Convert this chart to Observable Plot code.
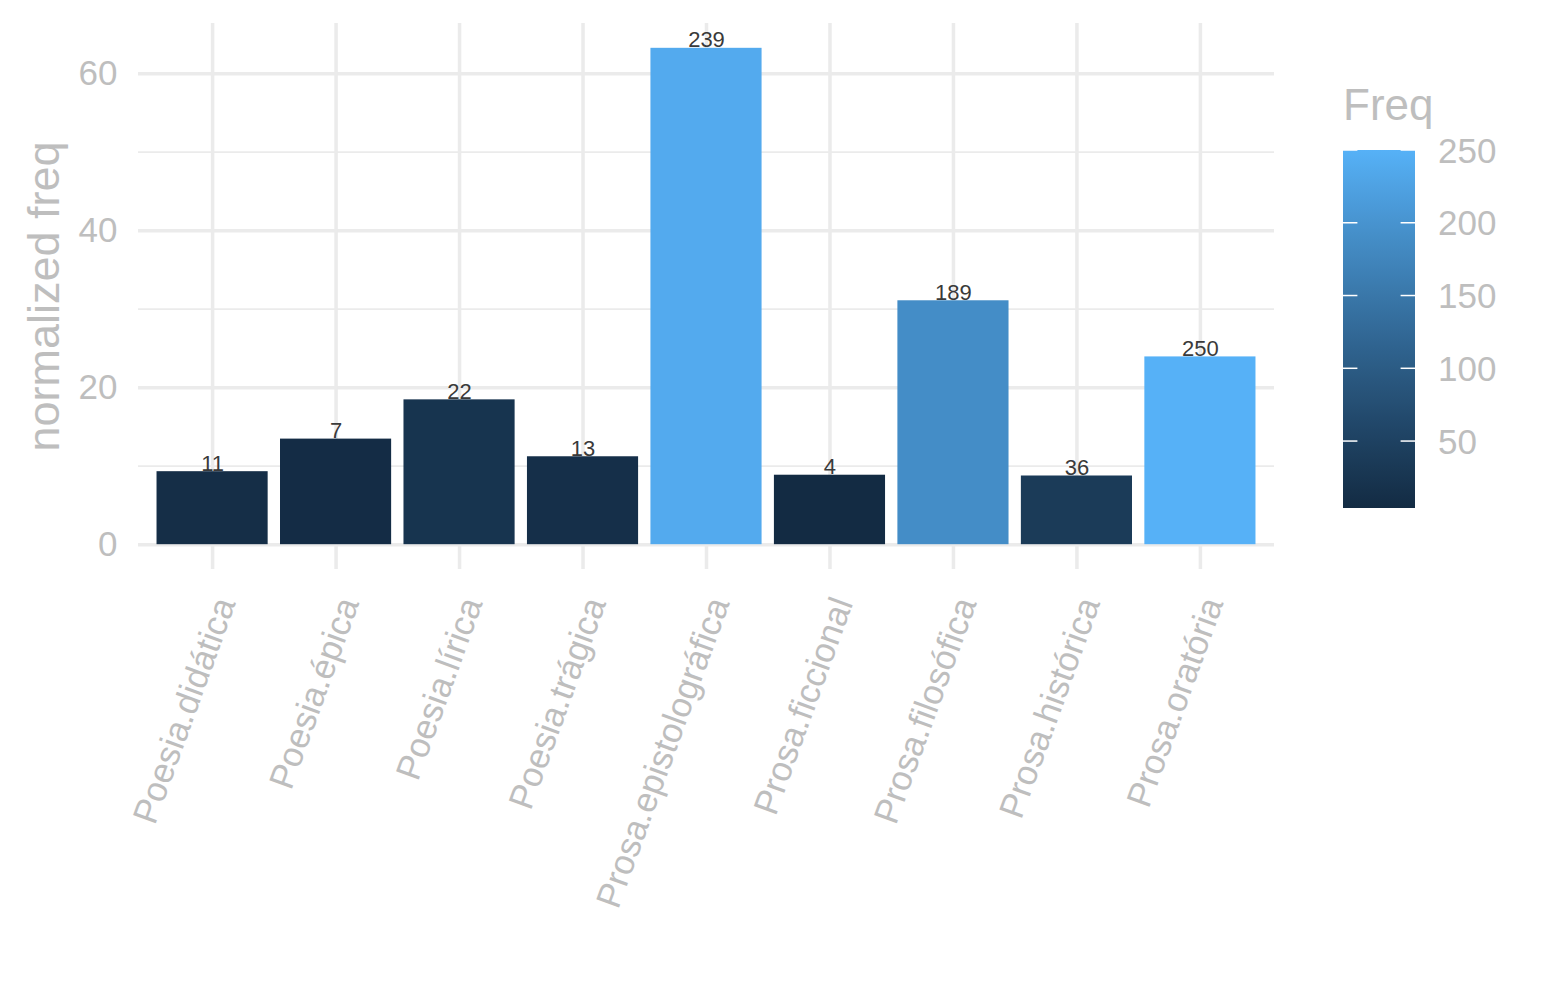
<!DOCTYPE html>
<html>
<head>
<meta charset="utf-8">
<script src="https://cdn.jsdelivr.net/npm/d3@7"></script>
<script src="https://cdn.jsdelivr.net/npm/@observablehq/plot@0.6"></script>
<style>
  html, body { margin: 0; padding: 0; background: #fff; }
  #wrap { position: relative; width: 1545px; height: 1000px; font-family: "Liberation Sans", Arial, sans-serif; }
  #wrap > svg { position: absolute; left: 0; top: 0; }
</style>
</head>
<body>
<div id="wrap"></div>
<script>
const categories = ["Poesia.didática","Poesia.épica","Poesia.lírica","Poesia.trágica","Prosa.epistolográfica","Prosa.ficcional","Prosa.filosófica","Prosa.histórica","Prosa.oratória"];
const normFreq = [9.3, 13.45, 18.45, 11.2, 63.23, 8.85, 31.07, 8.75, 23.92];
const freq = [11, 7, 22, 13, 239, 4, 189, 36, 250];
const yMajorTicks = [0, 20, 40, 60];
const yMinorTicks = [10, 30, 50];
const legendTicks = [50, 100, 150, 200, 250];

const data = categories.map((c, i) => ({cat: c, norm: normFreq[i], freq: freq[i]}));
const fmin = d3.min(freq), fmax = d3.max(freq);
const lowCol = "#132B43", highCol = "#56B1F7";
const grey = "#BEBEBE";
const gridCol = "#EBEBEB";
const font = "Liberation Sans, Arial, sans-serif";

const chart = Plot.plot({
  width: 1545,
  height: 1000,
  marginTop: 23,
  marginBottom: 431,
  marginLeft: 138,
  marginRight: 271,
  style: {fontFamily: font, background: "transparent"},
  x: {type: "band", domain: categories, paddingInner: 0.1, paddingOuter: 0.15, range: [138, 1274], round: false, axis: null},
  y: {domain: [-3.16, 66.39], axis: null},
  color: {type: "linear", domain: [fmin, fmax], range: [lowCol, highCol], interpolate: "lab"},
  marks: [
    Plot.gridY(yMinorTicks, {stroke: gridCol, strokeOpacity: 1, strokeWidth: 1.8}),
    Plot.gridY(yMajorTicks, {stroke: gridCol, strokeOpacity: 1, strokeWidth: 3.5}),
    Plot.gridX(categories, {stroke: gridCol, strokeOpacity: 1, strokeWidth: 3.5}),
    Plot.barY(data, {x: "cat", y: "norm", fill: "freq"}),
    Plot.text(data, {x: "cat", y: "norm", text: d => String(d.freq), fontSize: 22, fill: "#3a3a3a", lineAnchor: "middle", dy: -8}),
    Plot.axisY(yMajorTicks, {tickSize: 0, tickPadding: 21, fontSize: 35, fill: grey, color: grey, label: null}),
    Plot.text(categories, {x: d => d, frameAnchor: "bottom", dy: 25, dx: 0, rotate: -70, textAnchor: "end", lineAnchor: "top", fontSize: 35, fill: grey}),
    Plot.text(["normalized freq"], {frameAnchor: "left", dx: -94, rotate: -90, fontSize: 45, fill: grey, lineAnchor: "middle", textAnchor: "middle"})
  ]
});
document.getElementById("wrap").appendChild(chart);

// Legend (colour bar)
const W = 1545, H = 1000;
const svg = d3.select("#wrap").append("svg").attr("width", W).attr("height", H)
  .style("font-family", font);
const barX = 1343, barW = 72, barTop = 150, barBot = 508;
const ly = d3.scaleLinear().domain([fmin, fmax]).range([barBot, barTop]);
const lc = d3.scaleLinear().domain([fmin, fmax]).range([lowCol, highCol]).interpolate(d3.interpolateLab);
const grad = svg.append("defs").append("linearGradient").attr("id", "g").attr("x1", 0).attr("y1", 1).attr("x2", 0).attr("y2", 0);
d3.range(0, 21).forEach(i => {
  const t = i / 20;
  grad.append("stop").attr("offset", t).attr("stop-color", lc(fmin + t * (fmax - fmin)));
});
svg.append("rect").attr("x", barX).attr("y", barTop).attr("width", barW).attr("height", barBot - barTop).attr("fill", "url(#g)");
legendTicks.forEach(v => {
  const y = ly(v);
  svg.append("line").attr("x1", barX).attr("x2", barX + barW / 5).attr("y1", y).attr("y2", y).attr("stroke", "#fff").attr("stroke-width", 1.5);
  svg.append("line").attr("x1", barX + barW - barW / 5).attr("x2", barX + barW).attr("y1", y).attr("y2", y).attr("stroke", "#fff").attr("stroke-width", 1.5);
  svg.append("text").attr("x", 1438).attr("y", y).attr("dy", "0.36em").attr("font-size", 35).attr("fill", grey).text(v);
});
svg.append("text").attr("x", 1343).attr("y", 120).attr("font-size", 44).attr("fill", grey).text("Freq");
</script>
</body>
</html>
